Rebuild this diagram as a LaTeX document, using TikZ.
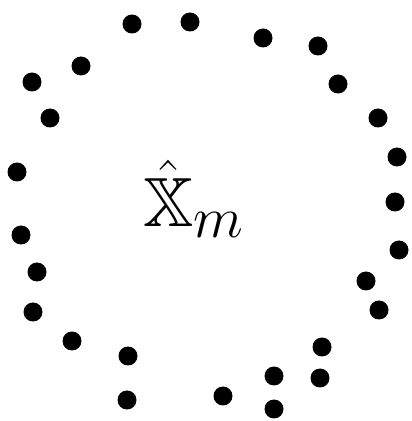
\documentclass[tikz,border=0pt]{standalone}
\usepackage{amssymb}
\usetikzlibrary{positioning}

\begin{document}
\begin{tikzpicture}[
    x=1pt, y=1pt,
    % Core Shapes
    pt/.style={circle, fill=black, draw=none, minimum size=19pt, inner sep=0pt},
    setlabel/.style={anchor=base west, inner sep=0pt, scale=2.8},
]

% Frame
\useasboundingbox (0,0) rectangle (412,421);

% 1. Label of the set
\node[setlabel] (xm) at (143,194) {\Huge $\hat{\mathbb{X}}_m$};

% 2. Sample points around it
\foreach \px/\py [count=\i] in {
    132/24, 190/22, 263/38, 318/46, 81/66, 32/82, 338/84, 50/118, 378/118,
    17/172, 397/157, 395/202, 21/235, 399/250, 37/272, 366/281, 33/312,
    379/310, 72/341, 128/356, 322/347, 274/376, 320/378, 127/400, 223/396,
    274/409}
{
    \node[pt] (d\i) at (\px, 421-\py) {};
}

\end{tikzpicture}
\end{document}
